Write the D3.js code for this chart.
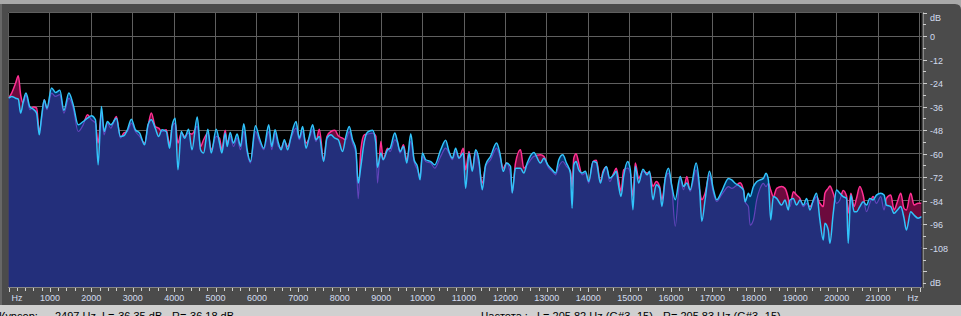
<!DOCTYPE html>
<html><head><meta charset="utf-8">
<script src="https://cdn.jsdelivr.net/npm/d3@7"></script>
<style>html,body{margin:0;padding:0;background:#4b4b4b;overflow:hidden}svg{display:block}</style>
</head><body><svg id="c" width="961" height="316"></svg>
<script>
// ---- data ----
const freqHz = [
0,76,173,237,293,357,422,518,598,679,743,799,863,928,1040,1136,1241,1337,1458,1562,1682,1803,1907,2004,2100,2164,2244,2309,2389,2469,2606,2702,2783,2871,2967,3064,3168,3288,3369,3449,3545,3626,3706,3810,3891,3955,4027,4091,4172,4252,
4349,4430,4558,4638,4711,4815,4895,5016,5096,5152,5233,5281,5353,5433,5522,5602,5682,5763,5843,5963,6060,6164,6285,6357,6437,6518,6582,6662,6742,6823,6943,7023,7104,7184,7264,7345,7425,7505,7610,7690,7786,7883,7963,8067,8148,8228,8308,8389,8445,8509,
8590,8670,8791,8871,8911,8992,9048,9152,9216,9329,9393,9457,9537,9618,9714,9795,9875,9939,9995,10076,10196,10292,10437,10557,10638,10718,10798,10878,10983,11039,11120,11200,11280,11360,11441,11521,11641,11786,11866,11946,12027,12123,12163,12243,12364,12444,12525,12685,12846,
12928,13024,13129,13209,13289,13386,13474,13570,13610,13651,13707,13771,13851,13932,14012,14116,14197,14293,14357,14438,14518,14614,14678,14735,14791,14855,14952,15016,15080,15136,15217,15321,15418,15482,15562,15642,15723,15779,15859,15939,16020,16100,16220,16300,16381,16461,16606,16686,16742,16822,16927,17023,17103,17224,
17386,17466,17547,17667,17747,17788,17868,17908,17988,18068,18149,18229,18293,18350,18406,18470,18550,18671,18751,18831,18872,18952,19032,19113,19193,19273,19353,19434,19514,19594,19675,19715,19795,19835,19916,19996,20076,20156,20237,20277,20341,20421,20478,20558,20638,20719,20799,20879,20959,21064,21144,21200,21305,21386,21466,21546,21626,21683,21787,21867,21964,22050
];
const levelR = [
-31.7,-30.8,-31.7,-32.2,-39.3,-33.4,-29.1,-36.2,-37.3,-39.3,-50.4,-41.0,-32.5,-36.8,-26.5,-28.8,-27.7,-37.9,-29.1,-35.0,-45.3,-43.6,-41.9,-40.7,-42.7,-65.7,-35.9,-48.7,-43.6,-45.3,-41.9,-51.2,-50.9,-47.8,-42.4,-47.8,-49.5,-55.5,-45.3,-42.7,-47.0,-51.2,-47.8,-48.7,-57.2,-45.3,-41.9,-68.2,-48.7,-52.1,
-47.5,-58.0,-41.3,-58.0,-59.7,-47.5,-59.7,-47.5,-54.6,-59.7,-49.5,-56.3,-49.2,-54.6,-50.0,-56.3,-44.7,-58.0,-64.0,-45.8,-52.1,-57.2,-45.3,-56.3,-47.8,-54.6,-58.0,-52.9,-58.0,-51.2,-43.6,-52.1,-46.1,-57.2,-51.2,-45.3,-52.9,-51.2,-64.0,-52.1,-50.4,-52.1,-52.9,-58.9,-51.2,-46.1,-52.9,-58.0,-75.0,-66.5,
-54.0,-49.0,-48.1,-54.6,-67.0,-59.7,-63.1,-58.0,-57.2,-49.5,-53.8,-58.9,-56.3,-64.8,-49.8,-63.1,-66.5,-73.3,-59.7,-63.1,-64.0,-65.7,-58.0,-53.2,-58.9,-62.3,-57.2,-62.3,-59.7,-77.6,-59.7,-69.0,-58.0,-63.1,-78.4,-65.7,-61.4,-54.6,-59.7,-69.0,-64.8,-66.5,-80.0,-67.4,-67.4,-69.9,-64.8,-59.4,-64.8,
-62.3,-65.7,-68.2,-69.9,-63.1,-60.6,-64.8,-69.9,-87.8,-65.7,-64.0,-68.2,-69.9,-69.0,-74.2,-64.0,-64.5,-75.0,-69.9,-66.5,-72.5,-70.8,-69.0,-76.7,-81.8,-71.6,-64.0,-68.2,-88.6,-66.5,-75.0,-67.9,-70.8,-69.0,-83.5,-75.9,-77.6,-86.9,-72.5,-67.4,-76.7,-83.5,-71.6,-76.7,-75.0,-78.4,-64.8,-76.7,-94.5,-83.5,-69.0,-78.4,-83.5,-79.2,
-72.6,-73.4,-75.1,-76.8,-78.5,-84.5,-80.2,-81.9,-76.8,-74.3,-73.4,-72.6,-70.0,-73.4,-93.8,-81.9,-82.8,-86.2,-83.6,-88.7,-83.6,-82.8,-86.2,-83.6,-86.2,-82.8,-88.7,-83.6,-80.2,-93.8,-104.0,-95.5,-98.9,-105.7,-90.4,-78.5,-80.2,-81.9,-82.8,-105.7,-81.1,-89.6,-89.6,-87.0,-84.5,-86.2,-82.8,-83.6,-81.1,-80.2,-81.1,-86.2,-87.0,-90.4,-88.7,-87.0,-92.9,-98.9,-89.6,-91.3,-92.9,-92.1
];
const levelL = [
-31.7,-29.1,-24.0,-20.3,-29.9,-34.2,-30.0,-37.6,-36.2,-36.7,-48.7,-42.7,-32.5,-37.6,-29.1,-30.8,-29.9,-39.3,-31.7,-36.7,-48.7,-45.3,-40.2,-42.7,-44.4,-54.6,-39.3,-50.4,-44.4,-47.0,-41.0,-52.1,-49.5,-48.7,-44.4,-48.7,-51.2,-54.6,-46.1,-39.3,-46.1,-47.0,-48.7,-47.8,-55.5,-46.1,-44.4,-54.6,-49.5,-51.2,
-49.5,-50.0,-46.1,-56.3,-52.9,-49.5,-58.0,-51.2,-52.1,-58.0,-48.1,-54.6,-51.2,-56.3,-52.1,-58.0,-48.7,-59.7,-64.8,-48.7,-53.8,-58.0,-48.7,-58.0,-49.5,-56.3,-57.2,-53.8,-56.3,-52.1,-47.0,-52.9,-48.7,-54.6,-52.1,-47.8,-53.8,-47.5,-63.1,-51.2,-48.7,-48.1,-50.9,-52.1,-52.9,-48.7,-54.6,-59.7,-83.0,-58.0,
-50.4,-50.0,-49.5,-51.2,-75.0,-53.8,-63.1,-57.2,-58.9,-52.9,-54.6,-59.7,-55.5,-63.1,-53.8,-64.0,-68.2,-71.6,-61.4,-64.0,-64.8,-67.4,-61.4,-57.2,-59.7,-63.1,-58.9,-62.3,-57.2,-68.2,-58.9,-68.2,-58.9,-65.7,-75.0,-66.5,-63.1,-57.2,-61.4,-67.4,-64.8,-70.8,-80.0,-64.8,-58.0,-67.4,-65.7,-61.4,-60.6,
-61.4,-66.5,-69.0,-70.8,-66.5,-64.0,-66.5,-69.0,-76.7,-62.3,-60.0,-64.8,-70.8,-69.9,-75.0,-64.0,-63.4,-74.2,-69.0,-66.8,-74.2,-69.9,-67.4,-73.3,-79.2,-68.2,-67.4,-69.9,-81.8,-64.8,-72.5,-69.0,-69.9,-69.9,-76.7,-74.2,-76.7,-83.5,-73.3,-69.9,-77.6,-97.0,-72.5,-78.4,-71.6,-79.2,-68.2,-78.4,-83.5,-80.1,-70.8,-80.1,-84.4,-80.9,
-76.8,-77.7,-76.8,-74.8,-78.5,-84.5,-87.0,-96.4,-93.8,-83.6,-77.7,-75.1,-76.8,-75.1,-78.5,-81.9,-77.7,-76.8,-77.7,-82.8,-87.0,-79.4,-81.1,-82.8,-87.0,-85.3,-87.0,-84.5,-81.9,-85.3,-87.0,-80.2,-77.7,-76.5,-80.2,-85.3,-83.6,-78.8,-81.6,-90.4,-80.2,-87.0,-82.8,-76.8,-81.1,-89.6,-85.3,-81.9,-85.3,-81.9,-88.7,-82.8,-81.1,-88.7,-84.5,-80.2,-87.9,-88.7,-80.2,-86.2,-85.3,-85.3
];
const freqTicks = [1000,2000,3000,4000,5000,6000,7000,8000,9000,10000,11000,12000,13000,14000,15000,16000,17000,18000,19000,20000,21000];
const dbTicks = [0,-12,-24,-36,-48,-60,-72,-84,-96,-108];
const cursorText = ["Курсор:", "2497 Hz", "L=-36.35 dB", "R=-36.18 dB"];
const freqText = ["Частота :", "L= 205.82 Hz (G#3 -15)", "R= 205.83 Hz (G#3 -15)"];

// ---- layout ----
const W = 961, H = 316;
const P = {l: 8.5, r: 921.6, t: 12.5, b: 287};
const x = d3.scaleLinear().domain([0, 22050]).range([P.l, P.r]);
const y = d3.scaleLinear().domain([12, -128]).range([P.t, P.b]);
const svg = d3.select('#c');
const defs = svg.append('defs');
const FONT = '"Liberation Sans", Arial, sans-serif';

svg.append('rect').attr('width', W).attr('height', H).attr('fill', '#a9a9a9');
svg.append('path').attr('d', 'M0,4 H955 Q961,4 961,10 V305 H0 Z').attr('fill', '#4b4b4b');
svg.append('rect').attr('x', 0).attr('y', 4).attr('width', 2).attr('height', 301).attr('fill', '#676767');
svg.append('rect').attr('x', 0).attr('y', 305).attr('width', W).attr('height', 11).attr('fill', '#d0d0d0');
svg.append('rect').attr('x', P.l).attr('y', P.t).attr('width', P.r - P.l).attr('height', P.b - P.t).attr('fill', '#000');

// grid
const grid = svg.append('g').attr('stroke', '#5f5f5f').attr('stroke-width', 1).attr('shape-rendering', 'crispEdges');
d3.range(0, 22001, 1000).forEach(f => grid.append('line').attr('x1', x(f)).attr('x2', x(f)).attr('y1', P.t).attr('y2', P.b));
d3.range(12, -121, -12).forEach(v => grid.append('line').attr('x1', P.l).attr('x2', P.r).attr('y1', y(v)).attr('y2', y(v)));

// spectrum
const pts = freqHz.map((f, i) => ({f, l: levelL[i], r: levelR[i]}));
const curve = d3.curveMonotoneX;
const areaL = d3.area().x(d => x(d.f)).y0(P.b).y1(d => y(d.l)).curve(curve);
const areaR = d3.area().x(d => x(d.f)).y0(P.b).y1(d => y(d.r)).curve(curve);
const areaAboveR = d3.area().x(d => x(d.f)).y0(P.t - 5).y1(d => y(d.r)).curve(curve);
const lineL = d3.line().x(d => x(d.f)).y(d => y(d.l)).curve(curve);
const lineR = d3.line().x(d => x(d.f)).y(d => y(d.r)).curve(curve);

defs.append('clipPath').attr('id', 'plotClip').append('rect')
  .attr('x', P.l).attr('y', P.t).attr('width', P.r - P.l).attr('height', P.b - P.t);
defs.append('clipPath').attr('id', 'belowR').append('path').attr('d', areaR(pts));
defs.append('clipPath').attr('id', 'aboveR').append('path').attr('d', areaAboveR(pts));

const g = svg.append('g').attr('clip-path', 'url(#plotClip)');
g.append('path').attr('d', areaL(pts)).attr('fill', '#6c0a3d');
g.append('path').attr('d', areaR(pts)).attr('fill', '#07346f');
g.append('path').attr('d', areaL(pts)).attr('fill', '#232f7b').attr('clip-path', 'url(#belowR)');
g.append('path').attr('d', lineL(pts)).attr('fill', 'none').attr('stroke', '#6343ba').attr('stroke-width', 1.2).attr('clip-path', 'url(#belowR)');
g.append('path').attr('d', lineL(pts)).attr('fill', 'none').attr('stroke', '#ff2f92').attr('stroke-width', 1.5).attr('clip-path', 'url(#aboveR)');
g.append('path').attr('d', lineR(pts)).attr('fill', 'none').attr('stroke', '#31c4fb').attr('stroke-width', 1.5);

// bottom axis
const ax = svg.append('g');
ax.append('line').attr('x1', P.l).attr('x2', P.r).attr('y1', 287.5).attr('y2', 287.5)
  .attr('stroke', '#c4c4c4').attr('stroke-dasharray', '1,1');
d3.range(0, 22001, 200).forEach(f => ax.append('line')
  .attr('x1', Math.round(x(f)) + 0.5).attr('x2', Math.round(x(f)) + 0.5)
  .attr('y1', 288).attr('y2', f % 1000 === 0 ? 292 : 291).attr('stroke', '#cfcfcf'));
const labStyle = s => s.attr('font-family', FONT).attr('font-size', '9px').attr('fill', '#d2dcee');
freqTicks.forEach(f => labStyle(ax.append('text')).attr('x', x(f)).attr('y', 300.5).attr('text-anchor', 'middle').text(f));
labStyle(ax.append('text')).attr('x', 17).attr('y', 300.5).attr('text-anchor', 'middle').text('Hz');
labStyle(ax.append('text')).attr('x', 913).attr('y', 300.5).attr('text-anchor', 'middle').text('Hz');

// right axis
const ay = svg.append('g');
ay.append('line').attr('x1', 923.5).attr('x2', 923.5).attr('y1', P.t).attr('y2', 288)
  .attr('stroke', '#c4c4c4').attr('stroke-dasharray', '1,1');
d3.range(12, -127, -6).forEach(v => ay.append('line')
  .attr('x1', 923).attr('x2', v % 12 === 0 ? 927 : 926)
  .attr('y1', Math.round(y(v)) + 0.5).attr('y2', Math.round(y(v)) + 0.5).attr('stroke', '#cfcfcf'));
dbTicks.forEach(v => labStyle(ay.append('text')).attr('x', 930).attr('y', y(v) + 4).text(v));
labStyle(ay.append('text')).attr('x', 930).attr('y', 20.5).text('dB');
labStyle(ay.append('text')).attr('x', 930).attr('y', 286.3).text('dB');

// status bar
const st = svg.append('g').attr('font-family', FONT).attr('font-size', '11px').attr('fill', '#000');
[[-1, cursorText[0]], [55, cursorText[1]], [102, cursorText[2]], [172, cursorText[3]],
 [481, freqText[0]], [537, freqText[1]], [663, freqText[2]]]
  .forEach(([px, t]) => st.append('text').attr('x', px).attr('y', 319.5).text(t));
</script></body></html>
